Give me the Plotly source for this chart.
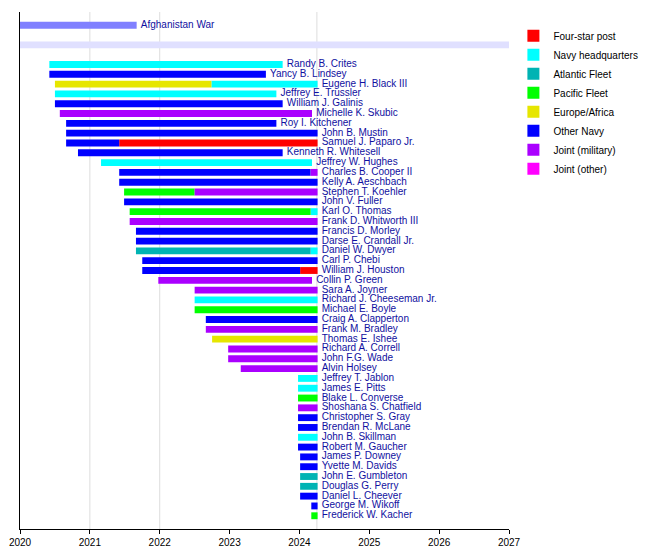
import plotly.graph_objects as go

# ---- data (decimal years) ----
NOW = 2024.26

names = [
    "Randy B. Crites", "Yancy B. Lindsey", "Eugene H. Black III", "Jeffrey E. Trussler",
    "William J. Galinis", "Michelle K. Skubic", "Roy I. Kitchener", "John B. Mustin",
    "Samuel J. Paparo Jr.", "Kenneth R. Whitesell", "Jeffrey W. Hughes", "Charles B. Cooper II",
    "Kelly A. Aeschbach", "Stephen T. Koehler", "John V. Fuller", "Karl O. Thomas",
    "Frank D. Whitworth III", "Francis D. Morley", "Darse E. Crandall Jr.", "Daniel W. Dwyer",
    "Carl P. Chebi", "William J. Houston", "Collin P. Green", "Sara A. Joyner",
    "Richard J. Cheeseman Jr.", "Michael E. Boyle", "Craig A. Clapperton", "Frank M. Bradley",
    "Thomas E. Ishee", "Richard A. Correll", "John F.G. Wade", "Alvin Holsey",
    "Jeffrey T. Jablon", "James E. Pitts", "Blake L. Converse", "Shoshana S. Chatfield",
    "Christopher S. Gray", "Brendan R. McLane", "John B. Skillman", "Robert M. Gaucher",
    "James P. Downey", "Yvette M. Davids", "John E. Gumbleton", "Douglas G. Perry",
    "Daniel L. Cheever", "George M. Wikoff", "Frederick W. Kacher",
]

# service segments: person index, start, end, role
seg_person = [0, 1, 2, 2, 3, 4, 5, 6, 7, 8, 8, 9, 10, 11, 11, 12, 13, 13, 14, 15, 15,
              16, 17, 18, 19, 19, 20, 21, 21, 22, 23, 24, 25, 26, 27, 28, 29, 30, 31,
              32, 33, 34, 35, 36, 37, 38, 39, 40, 41, 42, 43, 44, 45, 46]
seg_start = [2020.42, 2020.42, 2020.50, 2022.74, 2020.50, 2020.50, 2020.57, 2020.66, 2020.66,
             2020.66, 2021.42, 2020.83, 2021.16, 2021.42, 2024.16, 2021.42, 2021.49, 2022.50,
             2021.49, 2021.57, 2024.16, 2021.57, 2021.66, 2021.66, 2021.66, 2024.16, 2021.75,
             2021.75, 2024.01, 2021.98, 2022.50, 2022.50, 2022.50, 2022.66, 2022.66, 2022.75,
             2022.98, 2022.98, 2023.16, 2023.98, 2023.98, 2023.98, 2023.98, 2023.98, 2023.98,
             2023.98, 2023.98, 2024.01, 2024.01, 2024.01, 2024.01, 2024.01, 2024.17, 2024.17]
seg_end = [2023.76, 2023.52, 2022.74, NOW, 2023.67, 2023.76, 2024.18, 2023.67, NOW,
           2021.42, NOW, 2023.76, 2024.18, 2024.16, NOW, NOW, 2022.50, NOW,
           NOW, 2024.16, NOW, NOW, NOW, NOW, 2024.16, NOW, NOW,
           2024.01, NOW, 2024.18, NOW, NOW, NOW, NOW, NOW, NOW,
           NOW, NOW, NOW, NOW, NOW, NOW, NOW, NOW, NOW,
           NOW, NOW, NOW, NOW, NOW, NOW, NOW, NOW, NOW]
seg_role = ["hq", "navy", "eur", "hq", "hq", "navy", "jmil", "navy", "navy",
            "navy", "four", "navy", "hq", "navy", "jmil", "navy", "pac", "jmil",
            "navy", "pac", "hq", "jmil", "navy", "navy", "atl", "hq", "navy",
            "navy", "four", "jmil", "jmil", "hq", "pac", "navy", "jmil", "eur",
            "jmil", "jmil", "jmil", "hq", "hq", "pac", "jmil", "navy", "navy",
            "hq", "navy", "navy", "navy", "atl", "atl", "navy", "navy", "pac"]

role_keys = ["four", "hq", "atl", "pac", "eur", "navy", "jmil", "jother"]
role_labels = ["Four-star post", "Navy headquarters", "Atlantic Fleet", "Pacific Fleet",
               "Europe/Africa", "Other Navy", "Joint (military)", "Joint (other)"]
role_colors = ["#ff0000", "#00ffff", "#00b3b3", "#00ff00", "#e6e600", "#0000ff", "#aa00ff", "#ff00ff"]

war_label = "Afghanistan War"
war_start, war_end = 2020.0, 2021.67
year_ticks = [2020, 2021, 2022, 2023, 2024, 2025, 2026, 2027]
grid_years = [2021, 2022, 2024.25]

# ---- figure ----
ROW0 = 4  # first person row
BW = 0.7
fig = go.Figure()

# war bar and era band
fig.add_trace(go.Bar(orientation="h", y=[0], base=[war_start], x=[war_end - war_start],
                     width=BW, marker=dict(color="#8080ff", line=dict(width=0)),
                     showlegend=False, hoverinfo="skip"))
fig.add_trace(go.Bar(orientation="h", y=[2], base=[2020.0], x=[7.0],
                     width=BW, marker=dict(color="#e0e0ff", line=dict(width=0)),
                     showlegend=False, hoverinfo="skip"))

for key, label, color in zip(role_keys, role_labels, role_colors):
    idx = [i for i, r in enumerate(seg_role) if r == key]
    ys = [ROW0 + seg_person[i] for i in idx]
    bases = [seg_start[i] for i in idx]
    lens = [seg_end[i] - seg_start[i] for i in idx]
    if not idx:
        ys, bases, lens = [None], [None], [None]
    fig.add_trace(go.Bar(orientation="h", y=ys, base=bases, x=lens, width=BW,
                         name=label, marker=dict(color=color, line=dict(width=0))))

# labels at end of each person's service
last_end = {}
for p, e in zip(seg_person, seg_end):
    last_end[p] = max(last_end.get(p, 0), e)
label_x = [war_end] + [last_end[i] for i in range(len(names))]
label_y = [0] + [ROW0 + i for i in range(len(names))]
label_t = [war_label] + names
fig.add_trace(go.Scatter(x=label_x, y=label_y, text=label_t, mode="markers+text",
                         marker=dict(size=5, color="rgba(0,0,0,0)"),
                         textposition="middle right", cliponaxis=False,
                         textfont=dict(family="Liberation Sans, Arial", size=10, color="#1010a0"),
                         showlegend=False, hoverinfo="skip"))

for gx in grid_years:
    fig.add_shape(type="line", xref="x", yref="paper", x0=gx, x1=gx, y0=0, y1=1,
                  line=dict(color="#dddddd", width=1), layer="below")

# the page body offsets the figure, so it is sized slightly under the window
fig.update_layout(
    width=642, height=542,
    margin=dict(l=12, r=141, t=4, b=21, autoexpand=False),
    paper_bgcolor="white", plot_bgcolor="white",
    barmode="overlay",
    font=dict(family="Liberation Sans, Arial", size=10, color="black"),
    xaxis=dict(range=[2020, 2027], tickvals=year_ticks, ticktext=[str(y) for y in year_ticks],
               showgrid=False, zeroline=False, showline=True, linecolor="black", linewidth=1,
               ticks="outside", ticklen=4, tickcolor="black", tickfont=dict(size=10),
               automargin=False),
    yaxis=dict(range=[51.35, -1.35], showgrid=False, zeroline=False, showticklabels=False,
               showline=True, linecolor="black", linewidth=1, ticks="", automargin=False),
    legend=dict(x=1.009, y=0.982, xanchor="left", yanchor="top", font=dict(size=10),
                bgcolor="rgba(0,0,0,0)", tracegroupgap=0),
    showlegend=True,
)

fig.write_html("out.html")
